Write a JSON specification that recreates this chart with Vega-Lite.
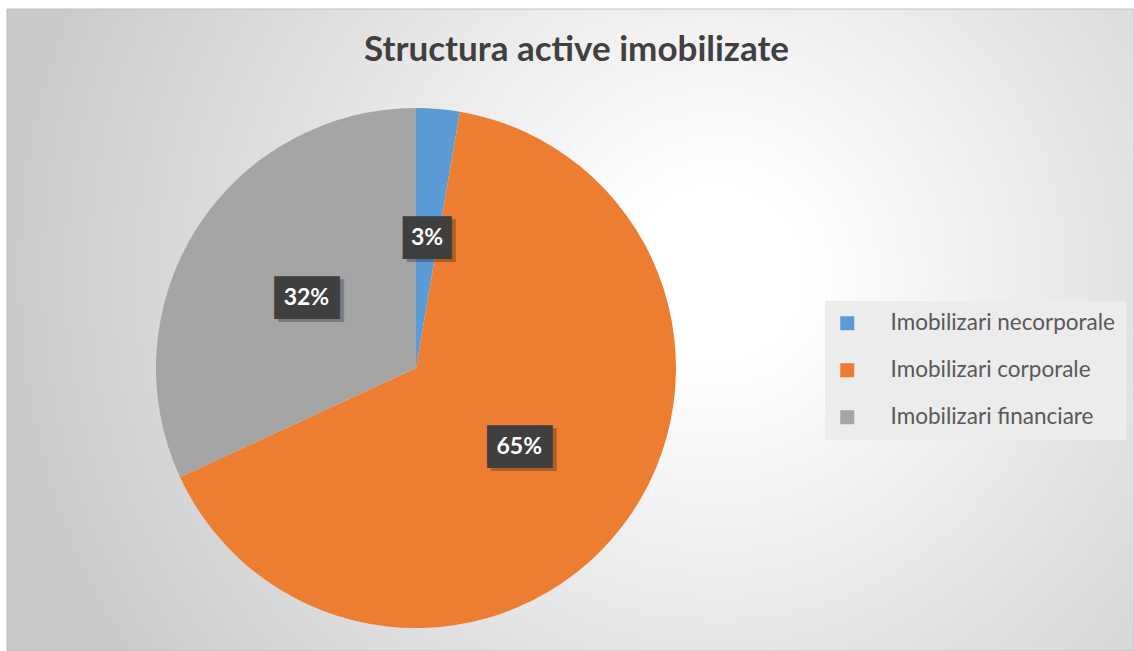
{
  "$schema": "https://vega.github.io/schema/vega-lite/v6.json",
  "width": 1127,
  "height": 642,
  "autosize": {"type": "none"},
  "padding": {"left": 7, "top": 9, "right": 0, "bottom": 0},
  "background": "white",
  "config": {"view": {"stroke": null}},
  "title": {
    "text": "Structura active imobilizate",
    "font": "Lato",
    "fontSize": 35,
    "fontWeight": "bold",
    "color": "#404040",
    "anchor": "middle",
    "frame": "group",
    "baseline": "alphabetic",
    "offset": 0,
    "dy": 87,
    "dx": 6
  },
  "layer": [
    {
      "data": {"values": [{}]},
      "mark": {
        "type": "rect",
        "fill": {
          "gradient": "radial",
          "x1": 0.63, "y1": 0.45, "r1": 0.08,
          "x2": 0.63, "y2": 0.45, "r2": 0.64,
          "stops": [
            {"offset": 0, "color": "#ffffff"},
            {"offset": 1, "color": "#c9c9c9"}
          ]
        },
        "stroke": "#c0c0c0",
        "strokeWidth": 1
      },
      "encoding": {}
    },
    {
      "data": {
        "values": [
          {"cat": "Imobilizari necorporale", "share": 0.027, "idx": 1},
          {"cat": "Imobilizari corporale", "share": 0.654, "idx": 2},
          {"cat": "Imobilizari financiare", "share": 0.319, "idx": 3}
        ]
      },
      "encoding": {
        "theta": {"field": "share", "type": "quantitative", "stack": true},
        "order": {"field": "idx", "type": "quantitative"}
      },
      "layer": [
        {
          "mark": {"type": "arc", "x": 409, "y": 359, "radius": 260},
          "encoding": {
            "color": {
              "field": "cat",
              "type": "nominal",
              "scale": {
                "domain": ["Imobilizari necorporale", "Imobilizari corporale", "Imobilizari financiare"],
                "range": ["#5B9BD5", "#ED7D31", "#A5A5A5"]
              },
              "legend": {
                "orient": "none",
                "legendX": 818,
                "legendY": 292,
                "title": null,
                "fillColor": "#ececec",
                "padding": 11,
                "symbolType": "square",
                "symbolSize": 196,
                "symbolStrokeWidth": 0,
                "labelFont": "Lato",
                "labelFontSize": 22.5,
                "labelColor": "#595959",
                "labelOffset": 32,
                "rowPadding": 24,
                "labelLimit": 400
              }
            }
          }
        },
        {
          "mark": {"type": "text", "x": 409, "y": 359, "radius": 130, "font": "DejaVu Sans", "fontSize": 36, "align": "left", "baseline": "middle", "dx": -20, "dy": 4, "color": "#000000", "text": "█▊"},
          "encoding": {"opacity": {"condition": {"test": "datum.share < 0.1", "value": 0.25}, "value": 0}}
        },
        {
          "mark": {"type": "text", "x": 409, "y": 359, "radius": 130, "font": "DejaVu Sans", "fontSize": 36, "align": "left", "baseline": "middle", "dx": -28, "dy": 4, "color": "#000000", "text": "██▍"},
          "encoding": {"opacity": {"condition": {"test": "datum.share >= 0.1", "value": 0.25}, "value": 0}}
        },
        {
          "mark": {"type": "text", "x": 409, "y": 359, "radius": 130, "font": "DejaVu Sans", "fontSize": 36, "align": "left", "baseline": "middle", "dx": -24, "dy": 1, "color": "#3f3f3f", "text": "█▊"},
          "encoding": {"opacity": {"condition": {"test": "datum.share < 0.1", "value": 1}, "value": 0}}
        },
        {
          "mark": {"type": "text", "x": 409, "y": 359, "radius": 130, "font": "DejaVu Sans", "fontSize": 36, "align": "left", "baseline": "middle", "dx": -32, "dy": 1, "color": "#3f3f3f", "text": "██▍"},
          "encoding": {"opacity": {"condition": {"test": "datum.share >= 0.1", "value": 1}, "value": 0}}
        },
        {
          "mark": {"type": "text", "x": 409, "y": 359, "radius": 130, "font": "Lato", "fontSize": 23, "fontWeight": "bold", "color": "#ffffff", "align": "center", "baseline": "middle"},
          "encoding": {"text": {"field": "share", "type": "quantitative", "format": ".0%"}}
        }
      ]
    }
  ]
}
